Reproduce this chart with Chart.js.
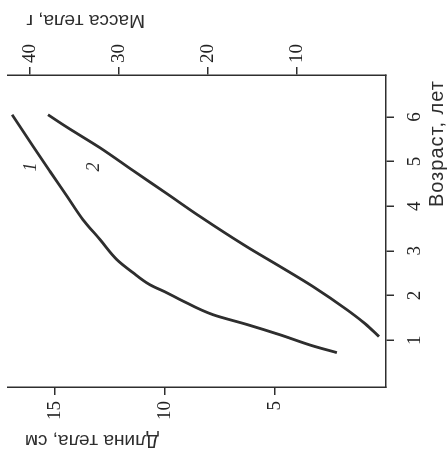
<!DOCTYPE html>
<html><head><meta charset="utf-8">
<script src="https://cdn.jsdelivr.net/npm/chart.js@4/dist/chart.umd.min.js"></script>
<style>
html,body{margin:0;padding:0;background:#fff;overflow:hidden;width:448px;height:452px;}
#wrap{position:absolute;left:-2px;top:2px;width:452px;height:448px;transform:rotate(-90deg);transform-origin:50% 50%;}
canvas{display:block;}
</style></head><body>
<div id="wrap"><canvas id="c" width="452" height="448"></canvas></div>
<script>
// Curve 1: body length (cm) vs age (years)
const lengthAge = [0.72, 0.87, 1.12, 1.35, 1.57, 1.91, 2.06, 2.24, 2.51, 2.80, 3.25, 3.70, 4.22, 4.78, 5.34, 6.05];
const lengthCm  = [2.18, 3.27, 4.77, 6.27, 7.82, 9.32, 9.91, 10.68, 11.45, 12.18, 12.95, 13.73, 14.45, 15.23, 16.0, 16.95];
// Curve 2: body mass (g) vs age (years)
const massAge = [1.08, 1.37, 1.68, 2.20, 2.65, 3.09, 3.77, 4.28, 4.80, 5.31, 5.77, 6.05];
const massG   = [0.79, 2.36, 4.38, 8.20, 11.91, 15.62, 20.90, 24.61, 28.43, 32.13, 35.84, 37.98];
// Ticks
const ageTicks = [1, 2, 3, 4, 5, 6];
const lengthTicks = [5, 10, 15];
const massTicks = [10, 20, 30, 40];
// Titles and curve labels
const ageTitle = 'Возраст, лет';
const lengthTitle = 'Длина тела, см';
const massTitle = 'Масса тела, г';
const curveNames = ['1', '2'];
const curveLabelAge = [4.88, 4.88];
const curveLabelValue = [16.1, 32.8];

const ink = '#2e2e2e';
const serif = "'Liberation Serif', 'DejaVu Serif', serif";
const sans = "'Liberation Sans', Arial, sans-serif";

function pts(xs, ys){ return xs.map((x,i)=>({x:x, y:ys[i]})); }
function fixTicks(arr){ return s => { s.ticks = arr.map(v=>({value:v})); }; }

const axisCommon = {
  grid:{display:true, drawOnChartArea:false, drawTicks:true, tickLength:8, color:ink, lineWidth:1.5},
  border:{display:true, color:ink, width:1.5},
  title:{display:false}
};

const titlePlugin = {
  id:'titles',
  afterDraw(chart){
    const ctx = chart.ctx, a = chart.chartArea;
    const x = chart.scales.x, yL = chart.scales.yL, yM = chart.scales.yM;
    ctx.save();
    ctx.fillStyle = ink;
    ctx.textBaseline = 'middle';
    // bottom (age) title
    ctx.font = '20px ' + sans;
    ctx.letterSpacing = '1px';
    ctx.textAlign = 'left';
    ctx.fillText(ageTitle, x.getPixelForValue(3.98), a.bottom + 51);
    ctx.letterSpacing = '0px';
    ctx.font = '19px ' + sans;
    // left (length) title, reading bottom-to-top
    ctx.save();
    ctx.translate(a.left - 53, a.top + 151);
    ctx.rotate(-Math.PI/2);
    ctx.textAlign = 'left';
    ctx.fillText(lengthTitle, 0, 0);
    ctx.restore();
    // right (mass) title, reading bottom-to-top
    ctx.save();
    ctx.translate(a.right + 55, a.top + 137);
    ctx.rotate(-Math.PI/2);
    ctx.textAlign = 'left';
    ctx.fillText(massTitle, 0, 0);
    ctx.restore();
    // curve labels
    ctx.font = 'italic 18px ' + serif;
    ctx.textAlign = 'center';
    const scs = [yL, yM];
    curveNames.forEach((n,i)=>{
      ctx.fillText(n, x.getPixelForValue(curveLabelAge[i]), scs[i].getPixelForValue(curveLabelValue[i]));
    });
    ctx.restore();
  }
};

new Chart(document.getElementById('c'), {
  type:'line',
  data:{
    datasets:[
      {label:'1', data:pts(lengthAge, lengthCm), yAxisID:'yL', borderColor:ink, borderWidth:2.8, pointRadius:0, fill:false, cubicInterpolationMode:'monotone'},
      {label:'2', data:pts(massAge, massG), yAxisID:'yM', borderColor:ink, borderWidth:2.8, pointRadius:0, fill:false, cubicInterpolationMode:'monotone'}
    ]
  },
  options:{
    responsive:false, animation:false, devicePixelRatio:1,
    layout:{padding:{top:8, left:0, right:0, bottom:0}},
    plugins:{legend:{display:false}, tooltip:{enabled:false}},
    scales:{
      x:Object.assign({}, axisCommon, {type:'linear', position:'bottom', min:-0.05, max:6.94,
        afterBuildTicks:fixTicks(ageTicks), afterFit:s=>{s.height=62; s.paddingLeft=0; s.paddingRight=0;},
        ticks:{font:{family:serif, size:19}, color:'#222', padding:10, maxRotation:0, minRotation:0}}),
      yL:Object.assign({}, axisCommon, {type:'linear', position:'left', min:-0.05, max:17.14,
        afterBuildTicks:fixTicks(lengthTicks), afterFit:s=>{s.width=65; s.paddingTop=0; s.paddingBottom=0;},
        ticks:{font:{family:serif, size:19}, color:'#222', padding:6}}),
      yM:Object.assign({}, axisCommon, {type:'linear', position:'right', min:0, max:42.47,
        afterBuildTicks:fixTicks(massTicks), afterFit:s=>{s.width=75; s.paddingTop=0; s.paddingBottom=0;},
        ticks:{font:{family:serif, size:19}, color:'#222', padding:4}})
    }
  },
  plugins:[titlePlugin]
});
</script>
</body></html>
